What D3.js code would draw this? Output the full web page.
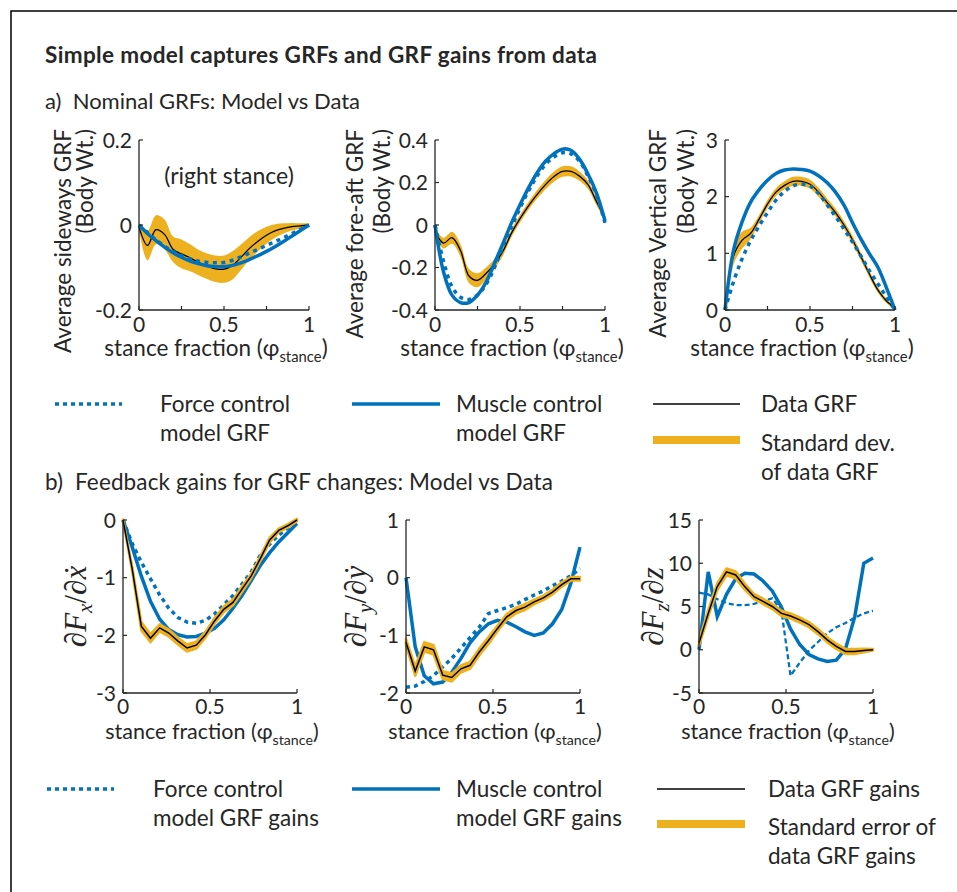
<!DOCTYPE html>
<html>
<head>
<meta charset="utf-8">
<script src="https://cdn.jsdelivr.net/npm/d3@7"></script>
<style>
  body { margin: 0; background: #fff; }
  svg text { font-family: Lato, "Open Sans", sans-serif; fill: #262626; }
</style>
</head>
<body>
<svg id="fig" width="957" height="892"></svg>
<script>
// ---- stance-phase grids ----
const stanceA = [0, 0.05, 0.1, 0.15, 0.2, 0.25, 0.3, 0.35, 0.4, 0.45, 0.5, 0.55, 0.6, 0.65, 0.7, 0.75, 0.8, 0.85, 0.9, 0.95, 1];
const stanceB = [0, 0.053, 0.105, 0.158, 0.211, 0.263, 0.316, 0.368, 0.421, 0.474, 0.526, 0.579, 0.632, 0.684, 0.737, 0.789, 0.842, 0.895, 0.947, 1];

// ---- a) nominal GRFs (body weights) ----
const sideData   = [-0.005, -0.048, -0.011, -0.022, -0.057, -0.068, -0.077, -0.088, -0.097, -0.103, -0.104, -0.095, -0.076, -0.055, -0.038, -0.024, -0.014, -0.008, -0.004, -0.002, 0];
const sideSd     = [0.006, 0.035, 0.034, 0.035, 0.03, 0.034, 0.032, 0.03, 0.03, 0.031, 0.032, 0.033, 0.03, 0.027, 0.024, 0.02, 0.016, 0.012, 0.009, 0.006, 0.004];
const sideMuscle = [0, -0.02, -0.037, -0.052, -0.065, -0.076, -0.085, -0.091, -0.096, -0.098, -0.098, -0.095, -0.089, -0.081, -0.072, -0.062, -0.051, -0.039, -0.026, -0.013, 0];
const sideForce  = [0, -0.018, -0.035, -0.05, -0.062, -0.072, -0.08, -0.085, -0.088, -0.089, -0.088, -0.083, -0.075, -0.066, -0.057, -0.048, -0.039, -0.03, -0.02, -0.01, 0];

const foreData   = [-0.03, -0.085, -0.06, -0.12, -0.24, -0.26, -0.228, -0.183, -0.123, -0.038, 0.03, 0.09, 0.143, 0.19, 0.228, 0.252, 0.252, 0.23, 0.19, 0.11, 0.035];
const foreSd     = [0.02, 0.025, 0.028, 0.03, 0.033, 0.033, 0.028, 0.024, 0.02, 0.018, 0.018, 0.018, 0.02, 0.022, 0.024, 0.025, 0.024, 0.022, 0.02, 0.017, 0.015];
const foreMuscle = [0, -0.22, -0.33, -0.365, -0.365, -0.33, -0.27, -0.18, -0.087, 0.01, 0.095, 0.175, 0.245, 0.3, 0.336, 0.357, 0.352, 0.31, 0.24, 0.15, 0.02];
const foreForce  = [0, -0.17, -0.29, -0.34, -0.35, -0.33, -0.28, -0.2, -0.1, -0.01, 0.08, 0.16, 0.23, 0.285, 0.32, 0.34, 0.335, 0.3, 0.23, 0.14, 0.01];

const vertData   = [0, 0.95, 1.23, 1.35, 1.6, 1.87, 2.08, 2.2, 2.27, 2.27, 2.22, 2.08, 1.9, 1.72, 1.5, 1.24, 0.94, 0.63, 0.35, 0.16, 0.04];
const vertSd     = [0.03, 0.15, 0.15, 0.1, 0.07, 0.07, 0.07, 0.07, 0.08, 0.08, 0.08, 0.08, 0.07, 0.07, 0.07, 0.07, 0.07, 0.06, 0.05, 0.04, 0.03];
const vertMuscle = [0, 1.05, 1.55, 1.9, 2.12, 2.29, 2.41, 2.47, 2.49, 2.48, 2.45, 2.37, 2.25, 2.08, 1.85, 1.54, 1.25, 0.99, 0.75, 0.39, 0];
const vertForce  = [0, 0.5, 0.9, 1.22, 1.48, 1.72, 1.94, 2.09, 2.19, 2.22, 2.19, 2.06, 1.86, 1.65, 1.43, 1.2, 0.95, 0.69, 0.46, 0.23, 0];

// ---- b) feedback gains ----
const gainXData   = [0, -0.85, -1.84, -2.05, -1.87, -1.96, -2.1, -2.22, -2.17, -1.99, -1.75, -1.55, -1.43, -1.2, -0.97, -0.67, -0.35, -0.18, -0.1, 0];
const gainXSe     = [0.01, 0.04, 0.07, 0.07, 0.06, 0.06, 0.06, 0.06, 0.06, 0.05, 0.05, 0.05, 0.05, 0.05, 0.04, 0.04, 0.04, 0.03, 0.03, 0.02];
const gainXMuscle = [0, -0.47, -0.97, -1.41, -1.72, -1.9, -1.99, -2.03, -2.02, -1.96, -1.88, -1.73, -1.53, -1.31, -1.05, -0.79, -0.57, -0.38, -0.22, -0.06];
const gainXForce  = [0, -0.41, -0.73, -1.02, -1.3, -1.53, -1.69, -1.77, -1.79, -1.74, -1.63, -1.47, -1.31, -1.11, -0.9, -0.61, -0.42, -0.26, -0.14, -0.02];

const gainYData   = [-1.12, -1.62, -1.2, -1.25, -1.69, -1.73, -1.58, -1.52, -1.29, -1.09, -0.88, -0.68, -0.57, -0.51, -0.42, -0.35, -0.25, -0.12, -0.02, -0.02];
const gainYSe     = [0.06, 0.08, 0.08, 0.08, 0.07, 0.07, 0.06, 0.06, 0.06, 0.06, 0.05, 0.05, 0.05, 0.05, 0.04, 0.04, 0.04, 0.04, 0.03, 0.03];
const gainYMuscle = [0, -1.2, -1.7, -1.84, -1.81, -1.64, -1.4, -1.13, -0.94, -0.8, -0.74, -0.77, -0.85, -0.94, -1.0, -0.96, -0.8, -0.55, -0.1, 0.53];
const gainYForce  = [-1.9, -1.88, -1.8, -1.7, -1.55, -1.4, -1.22, -1.04, -0.86, -0.62, -0.57, -0.52, -0.46, -0.38, -0.3, -0.23, -0.14, -0.06, 0.03, 0.16];

const gainZData   = [0.77, 4.2, 7.3, 9.0, 8.65, 7.3, 6.15, 5.6, 5.0, 4.2, 3.9, 3.45, 2.9, 2.1, 1.15, 0.4, -0.2, -0.2, -0.08, 0];
const gainZSe     = [0.3, 0.4, 0.4, 0.4, 0.4, 0.35, 0.3, 0.3, 0.3, 0.3, 0.3, 0.3, 0.3, 0.3, 0.3, 0.3, 0.3, 0.3, 0.2, 0.1];
const gainZMuscle = [0, 9.0, 3.85, 6.4, 8.2, 8.85, 8.75, 7.95, 6.8, 4.9, 2.4, 0.6, -0.55, -1.05, -1.35, -1.2, 0.1, 3.8, 10.0, 10.6];
const gainZForce  = [6.6, 6.4, 5.85, 5.4, 5.15, 5.15, 5.3, 5.6, 5.95, 4.5, -3.0, -1.5, -0.1, 0.9, 1.9, 2.6, 3.1, 3.7, 4.2, 4.5];

// ---- tick values and labels ----
const xTicksA = [0, 0.25, 0.5, 0.75, 1];
const xTicksB = [0, 0.5, 1];
const xTickLabels = { 0: "0", 0.5: "0.5", 1: "1" };
const yTicksSide = [-0.2, 0, 0.2], yLabelsSide = ["-0.2", "0", "0.2"];
const yTicksFore = [-0.4, -0.2, 0, 0.2, 0.4], yLabelsFore = ["-0.4", "-0.2", "0", "0.2", "0.4"];
const yTicksVert = [0, 1, 2, 3], yLabelsVert = ["0", "1", "2", "3"];
const yTicksGX = [-3, -2, -1, 0], yLabelsGX = ["-3", "-2", "-1", "0"];
const yTicksGY = [-2, -1, 0, 1], yLabelsGY = ["-2", "-1", "0", "1"];
const yTicksGZ = [-5, 0, 5, 10, 15], yLabelsGZ = ["-5", "0", "5", "10", "15"];

// ---- styling ----
const BLUE = "#0072BD", GOLD = "#EDB120", INK = "#262626";

const svg = d3.select("#fig");

// outer frame
svg.append("path").attr("d", "M11,892 V11 H957").attr("fill", "none").attr("stroke", "#000").attr("stroke-width", 1.5);

// headings
svg.append("text").attr("x", 45).attr("y", 63).attr("font-size", 22.5).attr("font-weight", 700)
  .attr("textLength", 552).attr("lengthAdjust", "spacing")
  .text("Simple model captures GRFs and GRF gains from data");
svg.append("text").attr("x", 45).attr("y", 109).attr("font-size", 22).attr("xml:space", "preserve")
  .attr("textLength", 315).attr("lengthAdjust", "spacing")
  .text("a)  Nominal GRFs: Model vs Data");
svg.append("text").attr("x", 45).attr("y", 490).attr("font-size", 22.5).attr("xml:space", "preserve")
  .attr("textLength", 508).attr("lengthAdjust", "spacing")
  .text("b)  Feedback gains for GRF changes: Model vs Data");

const panelsA = [
  { left: 139, domain: [-0.2, 0.2], yt: yTicksSide, yl: yLabelsSide, data: sideData, band: sideSd, muscle: sideMuscle, force: sideForce,
    ylab: ["Average sideways GRF", "(Body Wt.)"], labX: [71, 93] },
  { left: 435, domain: [-0.4, 0.4], yt: yTicksFore, yl: yLabelsFore, data: foreData, band: foreSd, muscle: foreMuscle, force: foreForce,
    ylab: ["Average fore-aft GRF", "(Body Wt.)"], labX: [363, 390] },
  { left: 725, domain: [0, 3], yt: yTicksVert, yl: yLabelsVert, data: vertData, band: vertSd, muscle: vertMuscle, force: vertForce,
    ylab: ["Average Vertical GRF", "(Body Wt.)"], labX: [666, 694] }
];

const panelsB = [
  { left: 123, domain: [-3, 0], yt: yTicksGX, yl: yLabelsGX, data: gainXData, band: gainXSe, muscle: gainXMuscle, force: gainXForce,
    sub: "x", den: "ẋ", labX: 86, dash: "4,4", fw: 3.5 },
  { left: 406, domain: [-2, 1], yt: yTicksGY, yl: yLabelsGY, data: gainYData, band: gainYSe, muscle: gainYMuscle, force: gainYForce,
    sub: "y", den: "ẏ", labX: 366, dash: "4,4", fw: 3.5 },
  { left: 699, domain: [-5, 15], yt: yTicksGZ, yl: yLabelsGZ, data: gainZData, band: gainZSe, muscle: gainZMuscle, force: gainZForce,
    sub: "z", den: "z", labX: 663, dash: "5,3", fw: 2.3 }
];

// axis lines, inward ticks, tick labels and the stance-fraction title
function axes(g, x, y, xt, yt, yl, top, bottom, left, right, o) {
  g.append("line").attr("x1", left).attr("x2", left).attr("y1", top).attr("y2", bottom)
    .attr("stroke", INK).attr("stroke-width", 1.3);
  g.append("line").attr("x1", left).attr("x2", right).attr("y1", bottom).attr("y2", bottom)
    .attr("stroke", INK).attr("stroke-width", 1.3);
  yt.forEach((v, i) => {
    g.append("line").attr("x1", left).attr("x2", left + 4).attr("y1", y(v)).attr("y2", y(v))
      .attr("stroke", INK).attr("stroke-width", 1.2);
    g.append("text").attr("x", left - 7).attr("y", y(v)).attr("dy", "0.36em")
      .attr("text-anchor", "end").attr("font-size", 21).text(yl[i]);
  });
  xt.forEach(v => {
    g.append("line").attr("x1", x(v)).attr("x2", x(v)).attr("y1", bottom).attr("y2", bottom - 4)
      .attr("stroke", INK).attr("stroke-width", 1.2);
    if (xTickLabels[v] !== undefined)
      g.append("text").attr("x", x(v)).attr("y", bottom + o.tickDy).attr("text-anchor", "middle")
        .attr("font-size", 21).text(xTickLabels[v]);
  });
  const t = g.append("text").attr("x", (left + right) / 2 + o.shift).attr("y", bottom + o.titleDy)
    .attr("text-anchor", "middle").attr("font-size", o.size);
  t.append("tspan").text("stance fraction (φ");
  t.append("tspan").attr("font-size", o.size * 0.66).attr("dy", 6).text("stance");
  t.append("tspan").attr("dy", -6).text(")");
}

// ---- row a ----
const topA = 140, botA = 310, widA = 170;
panelsA.forEach(p => {
  const g = svg.append("g");
  const x = d3.scaleLinear().domain([0, 1]).range([p.left, p.left + widA]);
  const y = d3.scaleLinear().domain(p.domain).range([botA, topA]);
  const pts = (arr) => stanceA.map((s, i) => [s, arr[i]]);
  const curve = d3.curveCatmullRom.alpha(0.5);
  g.append("path").datum(stanceA.map((s, i) => i))
    .attr("d", d3.area().curve(curve).x(i => x(stanceA[i])).y0(i => y(p.data[i] - p.band[i])).y1(i => y(p.data[i] + p.band[i])))
    .attr("fill", GOLD);
  const line = d3.line().curve(curve).x(d => x(d[0])).y(d => y(d[1]));
  g.append("path").datum(pts(p.data)).attr("d", line).attr("fill", "none").attr("stroke", "#000").attr("stroke-width", 1.3);
  g.append("path").datum(pts(p.muscle)).attr("d", line).attr("fill", "none").attr("stroke", BLUE).attr("stroke-width", 3.5);
  g.append("path").datum(pts(p.force)).attr("d", line).attr("fill", "none").attr("stroke", BLUE).attr("stroke-width", 3.5)
    .attr("stroke-dasharray", "4,4.5");
  axes(g, x, y, xTicksA, p.yt, p.yl, topA, botA, p.left, p.left + widA, { tickDy: 22, titleDy: 46, shift: -8, size: 22.5 });
  p.ylab.forEach((s, k) => {
    g.append("text").attr("transform", `translate(${p.labX[k]},129) rotate(-90)`)
      .attr("text-anchor", "end").attr("font-size", 22.5).text(s);
  });
});
svg.append("text").attr("x", 229).attr("y", 184).attr("text-anchor", "middle").attr("font-size", 23).text("(right stance)");

// ---- row b ----
const topB = 520, botB = 693, widB = 174;
panelsB.forEach(p => {
  const g = svg.append("g");
  const x = d3.scaleLinear().domain([0, 1]).range([p.left, p.left + widB]);
  const y = d3.scaleLinear().domain(p.domain).range([botB, topB]);
  const pts = (arr) => stanceB.map((s, i) => [s, arr[i]]);
  const line = d3.line().x(d => x(d[0])).y(d => y(d[1]));
  g.append("path").datum(pts(p.muscle)).attr("d", line).attr("fill", "none").attr("stroke", BLUE).attr("stroke-width", 3.5);
  g.append("path").datum(pts(p.force)).attr("d", line).attr("fill", "none").attr("stroke", BLUE).attr("stroke-width", p.fw)
    .attr("stroke-dasharray", p.dash);
  g.append("path").datum(stanceB.map((s, i) => i))
    .attr("d", d3.area().x(i => x(stanceB[i])).y0(i => y(p.data[i] - p.band[i])).y1(i => y(p.data[i] + p.band[i])))
    .attr("fill", GOLD).attr("stroke", GOLD).attr("stroke-width", 2.5).attr("stroke-linejoin", "round");
  g.append("path").datum(pts(p.data)).attr("d", line).attr("fill", "none").attr("stroke", "#000").attr("stroke-width", 1.5);
  axes(g, x, y, xTicksB, p.yt, p.yl, topB, botB, p.left, p.left + widB, { tickDy: 21, titleDy: 46, shift: 2, size: 21.5 });
  const t = g.append("text").attr("transform", `translate(${p.labX},${(topB + botB) / 2}) rotate(-90)`)
    .attr("text-anchor", "middle").attr("font-size", 31)
    .style("font-family", "'Liberation Serif', 'DejaVu Serif', serif").style("font-style", "italic");
  t.append("tspan").style("font-style", "normal").text("∂");
  t.append("tspan").text("F");
  t.append("tspan").attr("font-size", 21).attr("dy", 6).text(p.sub);
  t.append("tspan").attr("dy", -6).style("font-style", "normal").text("/");
  t.append("tspan").style("font-style", "normal").text("∂");
  t.append("tspan").text(p.den);
});

// ---- legends ----
function legend(yRow, xs, texts) {
  const g = svg.append("g");
  g.append("line").attr("x1", xs.dot[0]).attr("x2", xs.dot[1]).attr("y1", yRow).attr("y2", yRow)
    .attr("stroke", BLUE).attr("stroke-width", 3.5).attr("stroke-dasharray", "4,4");
  g.append("line").attr("x1", xs.mus[0]).attr("x2", xs.mus[1]).attr("y1", yRow).attr("y2", yRow)
    .attr("stroke", BLUE).attr("stroke-width", 3.5);
  g.append("line").attr("x1", xs.dat[0]).attr("x2", xs.dat[1]).attr("y1", yRow).attr("y2", yRow)
    .attr("stroke", "#000").attr("stroke-width", 1.3);
  g.append("line").attr("x1", xs.dat[0]).attr("x2", xs.dat[1]).attr("y1", yRow + xs.bandDy).attr("y2", yRow + xs.bandDy)
    .attr("stroke", GOLD).attr("stroke-width", 8);
  const txt = (x, y, s) => g.append("text").attr("x", x).attr("y", y).attr("font-size", 22.5).text(s);
  txt(xs.dotT, yRow + 8, texts.force[0]); txt(xs.dotT, yRow + 37, texts.force[1]);
  txt(456, yRow + 8, texts.muscle[0]); txt(456, yRow + 37, texts.muscle[1]);
  txt(xs.datT, yRow + 8, texts.data);
  txt(xs.datT, yRow + xs.bandDy + 11, texts.band[0]); txt(xs.datT, yRow + xs.bandDy + 40, texts.band[1]);
}
legend(404, { dot: [55, 122], mus: [352, 440], dat: [653, 740], dotT: 160, datT: 761, bandDy: 36 },
  { force: ["Force control", "model GRF"], muscle: ["Muscle control", "model GRF"], data: "Data GRF", band: ["Standard dev.", "of data GRF"] });
legend(789, { dot: [47, 114], mus: [352, 440], dat: [657, 745], dotT: 153, datT: 768, bandDy: 35 },
  { force: ["Force control", "model GRF gains"], muscle: ["Muscle control", "model GRF gains"], data: "Data GRF gains", band: ["Standard error of", "data GRF gains"] });
</script>
</body>
</html>
